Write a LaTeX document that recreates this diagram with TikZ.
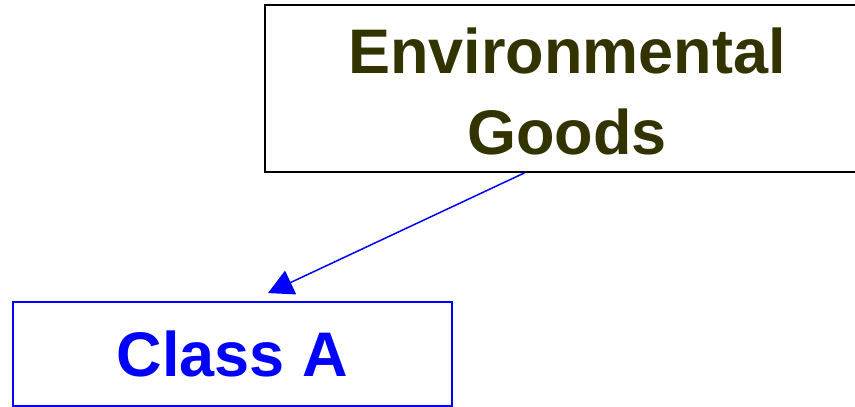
\documentclass[tikz,border=0pt]{standalone}
\usepackage{fontspec}
\setmainfont{Liberation Sans}
\usetikzlibrary{arrows.meta,positioning}
\definecolor{olive}{HTML}{333300}

\begin{document}
\begin{tikzpicture}[x=1pt,y=-1pt]
		\tikzstyle{main}=[rectangle, inner sep=0pt, align=center, font=\bfseries\fontsize{63}{73}\selectfont]
		\tikzstyle{goodsbox}=[main, draw=black, line width=1.3pt, text=olive, minimum width=604pt, minimum height=167pt]
		\tikzstyle{classbox}=[main, draw=blue, line width=1.8pt, text=blue, minimum width=439pt, minimum height=104pt]
		\tikzstyle{connect}=[draw=blue, line width=1.5pt, -{Triangle[length=25pt,width=26pt]}]
		\useasboundingbox (0,0) rectangle (855,407);
		\node[goodsbox] (env)    at (567,88.5)  {\rule{0pt}{52pt}Environmental\\[8pt]Goods};
		\node[classbox] (classa) at (232.5,354) {Class A};
		
		\path 
		([xshift=-42pt]env.south) edge [connect] ([xshift=35.5pt,yshift=8pt]classa.north)
		;
		
		\end{tikzpicture}
\end{document}
